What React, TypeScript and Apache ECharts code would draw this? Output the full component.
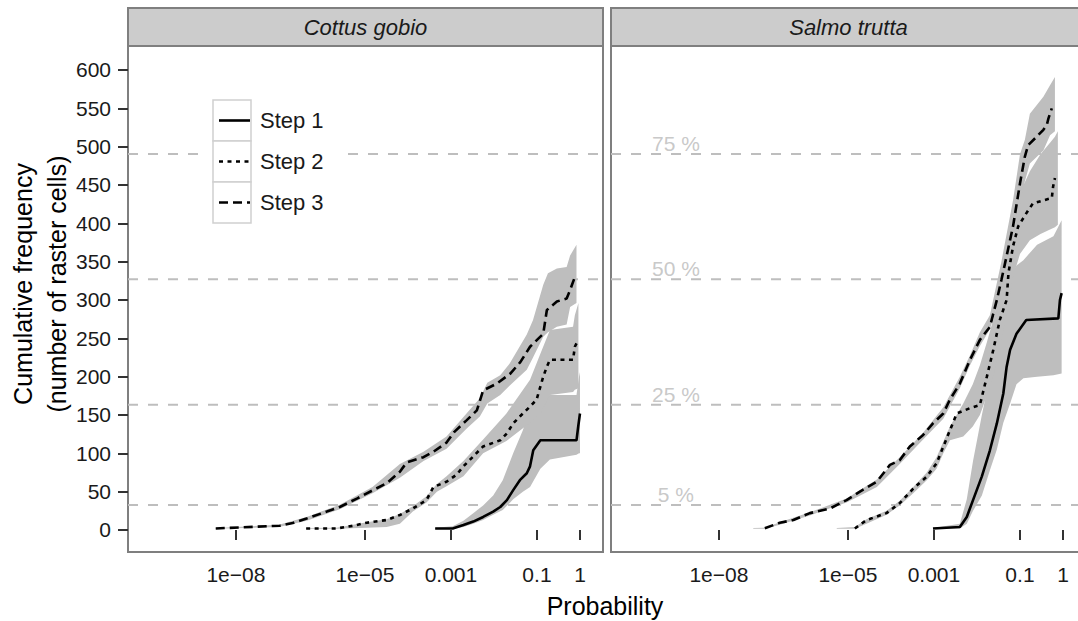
import React, { useEffect, useRef } from "react";
import * as echarts from "echarts";

const FONT = "'Liberation Sans', Arial, Helvetica, sans-serif";

const panelNames = ["Cottus gobio", "Salmo trutta"];
const stepNames = ["Step 1", "Step 2", "Step 3"];
const xTickValues = [1e-8, 1e-5, 0.001, 0.1, 1];
const xTickLabels = ["1e\u221208", "1e\u221205", "0.001", "0.1", "1"];
const yTickValues = [0, 50, 100, 150, 200, 250, 300, 350, 400, 450, 500, 550, 600];
const refLabels = ["5 %", "25 %", "50 %", "75 %"];
const refValues = [32.7, 163.5, 327, 490.5];
const refLabelProbability = 1e-9;
const xDomain = [3.1e-11, 3.43];
const yDomain = [-28.7, 631.3];

// ---- Cottus gobio : [probability, cumulative frequency] ----
const cgStep1 = [[4.3e-4,2],[1.1e-3,2],[1.95e-3,6.5],[3.3e-3,11],[5.6e-3,17],[9.6e-3,24],[1.4e-2,30],[2.0e-2,39],[2.8e-2,52],[4.0e-2,65],[5.8e-2,74],[6.9e-2,83],[8.2e-2,104],[0.12,117],[0.83,117],[0.91,135],[1.0,152]];
const cgStep2 = [[4.3e-7,2],[2.2e-6,2],[5.4e-6,5.6],[1.1e-5,9.5],[3.2e-5,13],[6.5e-5,19.6],[1.3e-4,28],[2.7e-4,39],[3.9e-4,56],[7.9e-4,63],[1.35e-3,72],[1.95e-3,83],[3.3e-3,96],[5.6e-3,109],[1.4e-2,117],[2.0e-2,126],[2.8e-2,139],[4.0e-2,148],[6.9e-2,161],[9.8e-2,170],[0.14,200],[0.17,213],[0.2,222],[0.69,222],[0.76,239],[0.91,248]];
const cgStep3 = [[3.4e-9,2],[1.05e-7,5.6],[2.1e-7,9],[4.4e-7,15],[1.3e-6,24],[2.6e-6,30],[6.5e-6,41],[1.55e-5,52],[3.2e-5,61],[6.5e-5,76],[9.3e-5,88],[2.3e-4,95],[3.9e-4,102],[7.9e-4,114],[1.2e-3,128],[2.3e-3,143],[4.0e-3,156],[5.6e-3,182],[1.17e-2,191],[2.4e-2,204],[4.1e-2,219],[6.9e-2,239],[0.14,256],[0.17,287],[0.29,298],[0.49,302],[0.59,313],[0.76,330]];
// bands: [probability, lower, upper]
const cgBand1 = [[4.3e-4,1,3],[1.1e-3,1.5,5],[1.95e-3,4,12],[3.3e-3,8,22],[5.6e-3,13,32],[9.6e-3,20,45],[1.6e-2,26,65],[2.8e-2,40,100],[4.7e-2,50,130],[6.9e-2,56,158],[0.12,80,174],[0.2,92,176],[0.83,98,176],[0.95,100,200],[1.0,100,206]];
const cgBand2 = [[4.3e-7,1.5,2.5],[2.2e-6,1.5,3],[1.1e-5,3,10],[3.2e-5,4,14],[6.5e-5,8,21],[1.3e-4,24,31],[2.7e-4,36,44],[4.7e-4,50,60],[7.9e-4,57,70],[1.95e-3,70,90],[5.6e-3,100,118],[1.95e-2,116,152],[6.9e-2,140,196],[0.12,152,230],[0.2,176,261],[0.69,180,265],[0.76,183,280],[0.92,185,296]];
const cgBand3 = [[3.4e-9,1.5,2.5],[1.0e-7,4,7],[4.4e-7,12,17],[2.6e-6,27,33],[1.5e-5,48,56],[6.5e-5,68,86],[2.3e-4,90,102],[7.9e-4,106,122],[2.3e-3,132,152],[4.7e-3,148,172],[7.0e-3,165,192],[1.4e-2,176,202],[2.3e-2,188,217],[5.8e-2,209,255],[8.1e-2,225,274],[0.14,252,320],[0.18,258,335],[0.29,265,341],[0.49,268,343],[0.59,291,358],[0.83,296,372]];

// ---- Salmo trutta ----
const stStep1 = [[9.5e-4,2],[4.0e-3,4],[5.8e-3,17],[8.1e-3,39],[1.3e-2,70],[2.0e-2,104],[2.9e-2,139],[4.1e-2,178],[4.9e-2,213],[5.9e-2,235],[8.3e-2,256],[0.14,274],[0.78,276],[0.85,300],[0.93,309]];
const stStep2 = [[1.45e-5,2],[2.7e-5,13],[7.9e-5,22],[1.6e-4,35],[3.3e-4,54],[6.8e-4,69.5],[1.15e-3,87],[1.65e-3,108.7],[2.35e-3,130],[3.4e-3,152],[6.9e-3,159],[1.17e-2,163],[1.7e-2,200],[2.4e-2,235],[3.4e-2,274],[4.9e-2,300],[5.4e-2,335],[6.9e-2,370],[9.1e-2,396],[0.14,413],[0.2,426],[0.35,430],[0.55,433],[0.59,448],[0.65,459]];
const stStep3 = [[1.17e-7,2.2],[2.6e-7,9.5],[5.4e-7,13],[1.3e-6,22],[3.8e-6,28],[9.3e-6,39],[1.9e-5,50],[4.7e-5,63],[9.5e-5,85],[1.6e-4,91],[2.75e-4,109],[5.6e-4,124],[9.5e-4,139],[1.65e-3,152],[2.35e-3,170],[4.0e-3,191],[6.9e-3,222],[1.17e-2,248],[2.0e-2,265],[2.9e-2,300],[3.7e-2,326],[6.9e-2,396],[0.1,452],[0.13,487],[0.155,502],[0.245,513],[0.35,522],[0.42,528],[0.46,537],[0.55,550]];
const stBand1 = [[9.5e-4,1.5,2.5],[4.0e-3,2,8],[5.8e-3,8,40],[8.1e-3,25,90],[1.3e-2,45,150],[2.0e-2,78,200],[2.9e-2,105,250],[4.1e-2,140,290],[5.9e-2,165,330],[8.3e-2,190,345],[0.12,198,352],[0.25,200,372],[0.6,202,383],[0.93,204,404]];
const stBand2 = [[5.5e-6,1.5,2.5],[1.45e-5,1.5,4],[2.7e-5,8,14],[7.9e-5,20,25],[1.6e-4,32,38],[3.3e-4,48,56],[6.8e-4,65,75],[1.15e-3,80,95],[1.65e-3,100,115],[2.35e-3,117,135],[4.8e-3,122,165],[8.0e-3,135,190],[1.17e-2,150,215],[1.7e-2,175,245],[2.4e-2,200,275],[3.4e-2,240,310],[4.9e-2,280,345],[6.9e-2,330,400],[0.1,360,440],[0.17,378,468],[0.3,386,490],[0.5,392,505],[0.65,395,513],[0.76,398,520]];
const stBand3 = [[6.3e-8,1.5,2.5],[1.17e-7,1.5,3],[2.6e-7,7,10],[1.3e-6,19,23],[9.3e-6,36,41],[4.7e-5,56,66],[1.6e-4,86,95],[5.6e-4,118,127],[1.65e-3,145,160],[4.0e-3,185,200],[6.9e-3,215,228],[1.17e-2,240,258],[2.0e-2,262,280],[3.7e-2,310,350],[6.9e-2,370,430],[0.1,420,490],[0.13,455,509],[0.17,478,543],[0.35,495,565],[0.5,515,580],[0.65,520,591]];

const panelLines = [[cgStep1, cgStep2, cgStep3], [stStep1, stStep2, stStep3]];
const panelBands = [[cgBand1, cgBand2, cgBand3], [stBand1, stBand2, stBand3]];

const lineDash: any[] = ["solid", [4, 4.5], [9, 5]];
const LINE_W = 2.6;
const BAND_FILL = "#bebebe";

export default function App() {
  const ref = useRef<HTMLDivElement>(null);
  useEffect(() => {
    const chart = echarts.init(ref.current!, null, { renderer: "svg" });
    const grids = [
      { left: 128, top: 46, width: 475, height: 506 },
      { left: 611, top: 46, width: 475, height: 506 },
    ];
    const xLabelFor = (v: number) => {
      const i = xTickValues.findIndex((t) => Math.abs(Math.log10(t) - Math.log10(v)) < 0.01);
      return i >= 0 ? xTickLabels[i] : "";
    };
    const series: any[] = [];
    for (let g = 0; g < 2; g++) {
      refValues.forEach((v) => {
        series.push({
          type: "line", xAxisIndex: g, yAxisIndex: g, silent: true, z: 1,
          symbol: "none",
          data: [[xDomain[0], v], [xDomain[1], v]],
          lineStyle: { color: "#bebebe", width: 2, type: [10, 10] },
        });
      });
      panelBands[g].forEach((rows) => {
        series.push({
          type: "custom", xAxisIndex: g, yAxisIndex: g, silent: true, z: 2, clip: true,
          data: rows,
          encode: { x: 0, y: [1, 2] },
          renderItem: (params: any, api: any) => {
            if (params.dataIndex !== 0) return null;
            const upper = rows.map((r) => api.coord([r[0], r[2]]));
            const lower = rows.map((r) => api.coord([r[0], r[1]])).reverse();
            return { type: "polygon", shape: { points: upper.concat(lower) }, style: { fill: BAND_FILL, stroke: null } };
          },
        });
      });
      panelLines[g].forEach((rows, s) => {
        series.push({
          type: "line", name: stepNames[s], xAxisIndex: g, yAxisIndex: g, silent: true, z: 3,
          symbol: "none", showSymbol: false, clip: true,
          data: rows,
          lineStyle: { color: "#000", width: LINE_W, type: lineDash[s], cap: "butt" },
        });
      });
    }
    series.push({
      type: "scatter", xAxisIndex: 1, yAxisIndex: 1, silent: true, z: 4, symbolSize: 0,
      data: refValues.map((v) => [refLabelProbability, v]),
      label: {
        show: true, position: "top", distance: 0,
        formatter: (p: any) => refLabels[p.dataIndex],
        color: "#bababa", fontSize: 21, fontFamily: FONT,
      },
    });

    const graphic: any[] = [];
    grids.forEach((gr, i) => {
      graphic.push({
        type: "rect", z: 100,
        shape: { x: gr.left, y: 8, width: gr.width, height: 38 },
        style: { fill: "#cccccc", stroke: "#7f7f7f", lineWidth: 2 },
      });
      graphic.push({
        type: "text", z: 101, x: gr.left + gr.width / 2, y: 27,
        style: {
          text: panelNames[i], fontSize: 22, fontStyle: "italic", fontFamily: FONT, fill: "#1a1a1a",
          align: "center", verticalAlign: "middle", textAlign: "center", textVerticalAlign: "middle",
        },
      });
    });
    graphic.push({
      type: "text", z: 101, x: 40, y: 284, rotation: Math.PI / 2,
      style: {
        text: "Cumulative frequency\n(number of raster cells)", fontSize: 25, lineHeight: 34, fontFamily: FONT, fill: "#000",
        align: "center", verticalAlign: "middle", textAlign: "center", textVerticalAlign: "middle",
      },
    });
    graphic.push({
      type: "text", z: 101, x: 605, y: 606,
      style: {
        text: "Probability", fontSize: 25, fontFamily: FONT, fill: "#000",
        align: "center", verticalAlign: "middle", textAlign: "center", textVerticalAlign: "middle",
      },
    });
    // legend
    graphic.push({ type: "rect", z: 100, shape: { x: 207, y: 95, width: 134, height: 133 }, style: { fill: "#fff", stroke: null } });
    const keyTops = [100, 141, 182];
    stepNames.forEach((name, i) => {
      const cy = keyTops[i] + 20.5;
      graphic.push({ type: "rect", z: 101, shape: { x: 213, y: keyTops[i], width: 38, height: 41 }, style: { fill: "#fff", stroke: "#d0d0d0", lineWidth: 1.5 } });
      graphic.push({
        type: "line", z: 102, shape: { x1: 219, y1: cy, x2: 250, y2: cy },
        style: { stroke: "#000", lineWidth: LINE_W, lineDash: i === 0 ? null : lineDash[i], lineCap: "butt" },
      });
      graphic.push({
        type: "text", z: 102, x: 260, y: cy,
        style: { text: name, fontSize: 22, fontFamily: FONT, fill: "#1a1a1a", align: "left", verticalAlign: "middle", textAlign: "left", textVerticalAlign: "middle" },
      });
    });

    const option: any = {
      animation: false,
      backgroundColor: "#fff",
      textStyle: { fontFamily: FONT },
      grid: grids.map((g) => ({ ...g, show: true, borderColor: "#7f7f7f", borderWidth: 2, backgroundColor: "#fff", containLabel: false })),
      xAxis: grids.map((_, i) => ({
        type: "log", logBase: 10, gridIndex: i, min: xDomain[0], max: xDomain[1],
        axisLine: { show: false },
        splitLine: { show: false },
        minorTick: { show: false },
        axisTick: { show: true, length: 10, customValues: xTickValues, lineStyle: { color: "#333", width: 2 } },
        axisLabel: { show: true, customValues: xTickValues, formatter: xLabelFor, fontSize: 21, color: "#1a1a1a", margin: 12, fontFamily: FONT },
      })),
      yAxis: grids.map((_, i) => ({
        type: "value", gridIndex: i, min: yDomain[0], max: yDomain[1],
        axisLine: { show: false },
        splitLine: { show: false },
        axisTick: { show: i === 0, length: 10, customValues: yTickValues, lineStyle: { color: "#333", width: 2 } },
        axisLabel: { show: i === 0, customValues: yTickValues, fontSize: 21, color: "#1a1a1a", margin: 17, fontFamily: FONT },
      })),
      series,
      graphic,
    };
    chart.setOption(option);
    return () => chart.dispose();
  }, []);
  return (
    <div style={{ position: "absolute", left: 0, top: 0, width: 1078, height: 621, overflow: "hidden", background: "#fff" }}>
      <div ref={ref} style={{ width: 1090, height: 621 }} />
    </div>
  );
}
